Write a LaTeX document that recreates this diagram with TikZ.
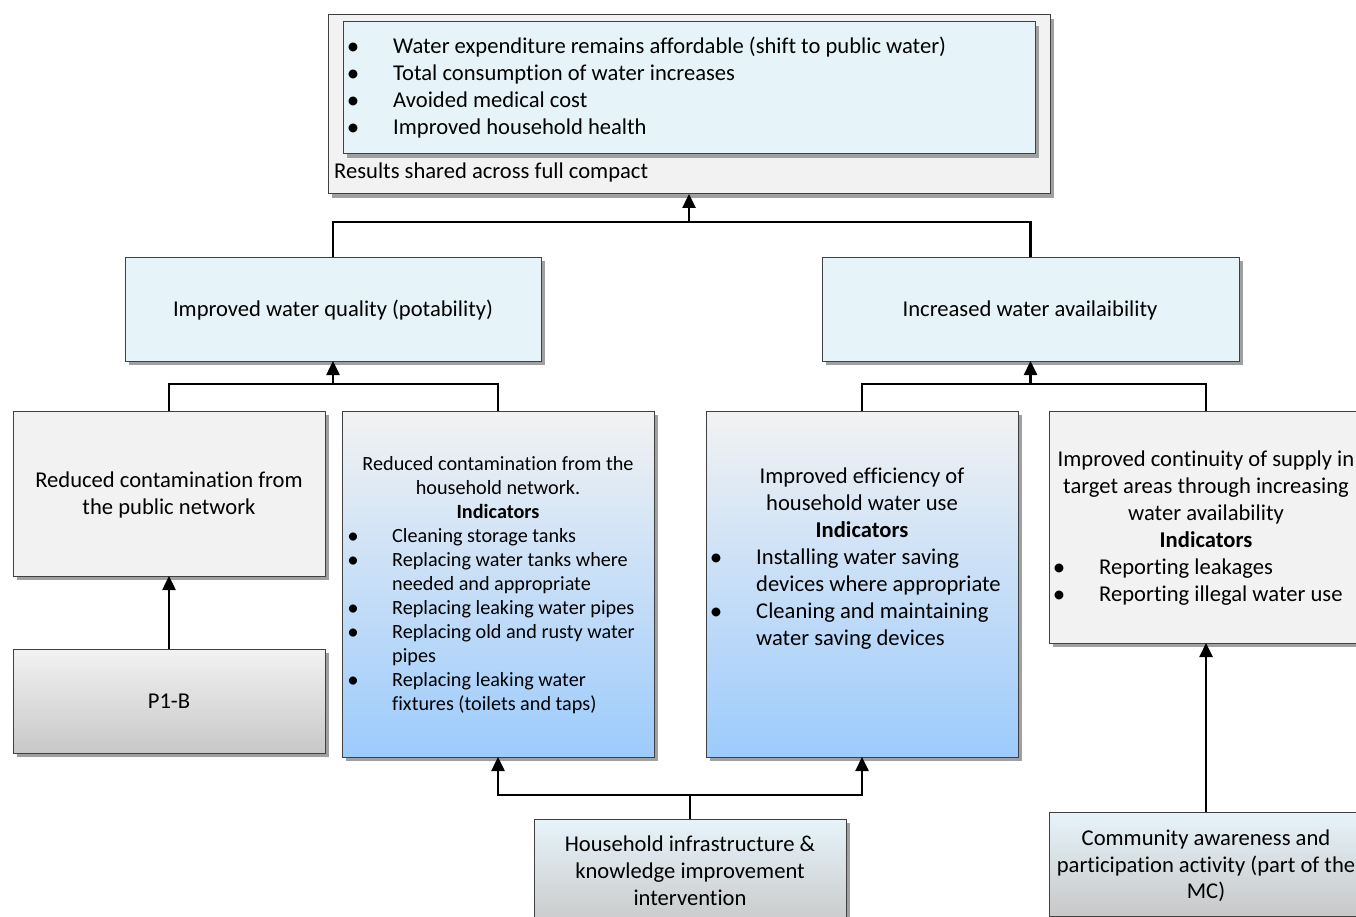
\documentclass[tikz,border=0pt]{standalone}
\usepackage{fontspec}
\setmainfont{Carlito}[Ligatures=NoCommon]
\usetikzlibrary{arrows.meta,shadows,calc}
\definecolor{lb}{HTML}{E6F4FA}
\definecolor{lg}{HTML}{F2F2F2}
\definecolor{gb}{HTML}{9CCBFC}
\definecolor{gg}{HTML}{C8C8C8}
\definecolor{bd}{HTML}{404040}
\definecolor{sh}{HTML}{A0A0A0}
\begin{document}
\begin{tikzpicture}[x=1pt,y=-1pt,
  box/.style={draw=bd, line width=1pt, anchor=north west, inner sep=0pt, outer sep=0pt,
    drop shadow={shadow xshift=4pt, shadow yshift=-4pt, fill=sh, opacity=1}},
  plain/.style={box, fill=lg},
  blue/.style={box, fill=lb},
  grad/.style={box, top color=lg, bottom color=gb},
  ggrad/.style={box, top color=lg, bottom color=gg},
  bgrad/.style={box, top color=lb, bottom color=gg},
  tb/.style={font=\fontsize{22.6}{26}\selectfont, inner sep=0pt, anchor=base},
  tbl/.style={tb, anchor=base west},
  ts/.style={font=\fontsize{20.2}{24}\selectfont, inner sep=0pt, anchor=base},
  tsl/.style={ts, anchor=base west},
  bul/.style={font=\fontsize{25}{25}\selectfont, inner sep=0pt, anchor=base},
  buls/.style={font=\fontsize{23}{23}\selectfont, inner sep=0pt, anchor=base},
  conn/.style={line width=2.5pt, draw=black},
  arr/.style={conn, -{Triangle[length=14pt,width=13pt]}}
]
\path[use as bounding box] (0,0) rectangle (1356,917);
\clip (0,0) rectangle (1356,917);

% boxes
\node[plain, minimum width=722pt, minimum height=179pt] (top) at (328,15) {};
\node[blue, minimum width=692pt, minimum height=132pt] (inner) at (343,22) {};
\node[blue, minimum width=416pt, minimum height=104pt] (qual) at (125,257) {};
\node[blue, minimum width=417pt, minimum height=104pt] (avail) at (822,257) {};
\node[plain, minimum width=312pt, minimum height=165pt] (pub) at (13,411) {};
\node[grad, minimum width=312pt, minimum height=346pt] (hh) at (342,411) {};
\node[grad, minimum width=312pt, minimum height=346pt] (eff) at (706,411) {};
\node[plain, minimum width=314pt, minimum height=232pt] (cont) at (1049,411) {};
\node[ggrad, minimum width=312pt, minimum height=104pt] (p1) at (13,649) {};
\node[bgrad, minimum width=312pt, minimum height=110pt] (hi) at (534,819) {};
\node[bgrad, minimum width=314pt, minimum height=104pt] (com) at (1049,812) {};

% top box text
\foreach \i/\y in {1/54,2/81,3/108,4/135} { \node[bul] (tbul\i) at (353,\y+1) {•}; }
\node[tbl] (t1) at (393,54) {Water expenditure remains affordable (shift to public water)};
\node[tbl] (t2) at (393,81) {Total consumption of water increases};
\node[tbl] (t3) at (393,108) {Avoided medical cost};
\node[tbl] (t4) at (393,135) {Improved household health};
\node[tbl] (t5) at (334,179) {Results shared across full compact};

\node[tb] (qt) at (333,316) {Improved water quality (potability)};
\node[tb] (at) at (1030,316) {Increased water availaibility};

\node[tb] (pt1) at (169,487) {Reduced contamination from};
\node[tb] (pt2) at (169,514) {the public network};

% household network box
\node[ts] (h1) at (498,470) {Reduced contamination from the};
\node[ts] (h2) at (498,494) {household network.};
\node[ts, font=\fontsize{20.2}{24}\selectfont\bfseries] (h3) at (498,518) {Indicators};
\foreach \i/\y in {1/542,2/566,3/614,4/638,5/686} { \node[buls] (hbul\i) at (353,\y+1) {•}; }
\node[tsl] (h4) at (392,542) {Cleaning storage tanks};
\node[tsl] (h5) at (392,566) {Replacing water tanks where};
\node[tsl] (h6) at (392,590) {needed and appropriate};
\node[tsl] (h7) at (392,614) {Replacing leaking water pipes};
\node[tsl] (h8) at (392,638) {Replacing old and rusty water};
\node[tsl] (h9) at (392,662) {pipes};
\node[tsl] (h10) at (392,686) {Replacing leaking water};
\node[tsl] (h11) at (392,710) {fixtures (toilets and taps)};

% efficiency box
\node[tb] (e1) at (862,483) {Improved efficiency of};
\node[tb] (e2) at (862,510) {household water use};
\node[tb, font=\fontsize{22.6}{26}\selectfont\bfseries] (e3) at (862,537) {Indicators};
\foreach \i/\y in {1/564,2/618} { \node[bul] (ebul\i) at (716,\y+1) {•}; }
\node[tbl] (e4) at (756,564) {Installing water saving};
\node[tbl] (e5) at (756,591) {devices where appropriate};
\node[tbl] (e6) at (756,618) {Cleaning and maintaining};
\node[tbl] (e7) at (756,645) {water saving devices};

% continuity box
\node[tb] (c1) at (1206,466) {Improved continuity of supply in};
\node[tb] (c2) at (1206,493) {target areas through increasing};
\node[tb] (c3) at (1206,520) {water availability};
\node[tb, font=\fontsize{22.6}{26}\selectfont\bfseries] (c4) at (1206,547) {Indicators};
\foreach \i/\y in {1/574,2/601} { \node[bul] (cbul\i) at (1059,\y+1) {•}; }
\node[tbl] (c5) at (1099,574) {Reporting leakages};
\node[tbl] (c6) at (1099,601) {Reporting illegal water use};

\node[tb] (pb) at (169,708) {P1-B};

\node[tb] (hi1) at (690,851) {Household infrastructure \&};
\node[tb] (hi2) at (690,878) {knowledge improvement};
\node[tb] (hi3) at (690,905) {intervention};

\node[tb] (co1) at (1206,845) {Community awareness and};
\node[tb] (co2) at (1206,872) {participation activity (part of the};
\node[tb] (co3) at (1206,898) {MC)};

% connectors
\coordinate (ya) at (0,222);
\coordinate (yb) at (0,384);
\coordinate (yc) at (0,795);
\coordinate (j0) at (top.south |- ya);
\coordinate (j1) at (qual.south |- yb);
\coordinate (j2) at (avail.south |- yb);
\coordinate (j3) at (hi.north |- yc);

\draw[conn] (qual.north) |- (j0) -| (avail.north);
\draw[arr] (j0) -- (top.south);
\draw[conn] (pub.north) |- (j1) -| (hh.north);
\draw[arr] (j1) -- (qual.south);
\draw[conn] (eff.north) |- (j2) -| (cont.north);
\draw[arr] (j2) -- (avail.south);
\draw[arr] (p1.north) -- (pub.south);
\draw[arr] (hi.north) -- (j3) -| (hh.south);
\draw[arr] (j3) -| (eff.south);
\draw[arr] (com.north) -- (cont.south);
\end{tikzpicture}
\end{document}
